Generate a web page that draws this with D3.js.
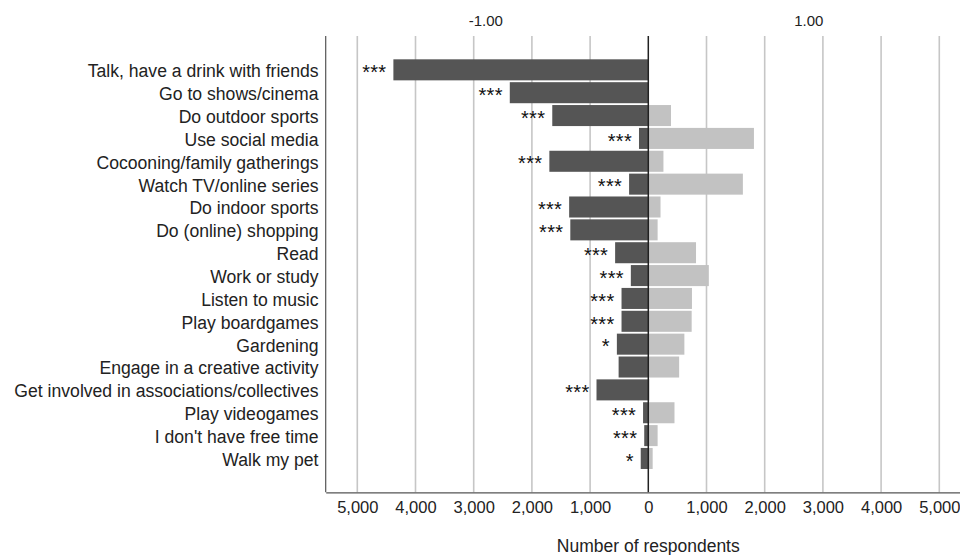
<!DOCTYPE html>
<html>
<head>
<meta charset="utf-8">
<script src="https://cdn.jsdelivr.net/npm/d3@7"></script>
<style>
  html, body { margin: 0; padding: 0; background: #fff; }
  svg { display: block; font-family: "Liberation Sans", Arial, sans-serif; }
</style>
</head>
<body>
<svg id="chart" width="960" height="555"></svg>
<script>
const categories = [
  "Talk, have a drink with friends",
  "Go to shows/cinema",
  "Do outdoor sports",
  "Use social media",
  "Cocooning/family gatherings",
  "Watch TV/online series",
  "Do indoor sports",
  "Do (online) shopping",
  "Read",
  "Work or study",
  "Listen to music",
  "Play boardgames",
  "Gardening",
  "Engage in a creative activity",
  "Get involved in associations/collectives",
  "Play videogames",
  "I don't have free time",
  "Walk my pet"
];
// respondents doing the activity less (dark, drawn left) and more (light, drawn right)
const lessValues = [4380, 2380, 1650, 160, 1700, 330, 1360, 1340, 570, 300, 460, 460, 540, 510, 890, 90, 70, 130];
const moreValues = [0, 0, 390, 1815, 260, 1625, 210, 160, 820, 1040, 750, 745, 620, 530, 20, 450, 160, 75];
const significance = ["***","***","***","***","***","***","***","***","***","***","***","***","*","","***","***","***","*"];
const tickValues = [-5000, -4000, -3000, -2000, -1000, 0, 1000, 2000, 3000, 4000, 5000];
const topLabels = ["-1.00", "1.00"];
const topLabelValues = [-3000, 3000];
const xMax = 5543;

const svg = d3.select("#chart");
const plotLeft = 325.7, plotRight = 970.9, plotTop = 36, plotBottom = 492.3;

const x = d3.scaleLinear().domain([-xMax, xMax]).range([plotLeft, plotRight]);
const y = d3.scaleBand().domain(categories).range([plotTop, plotBottom])
  .paddingInner(0.08).paddingOuter(1.02);

// gridlines
svg.append("g").selectAll("line").data(tickValues.filter(d => d !== 0)).join("line")
  .attr("x1", d => x(d)).attr("x2", d => x(d))
  .attr("y1", plotTop).attr("y2", plotBottom)
  .attr("stroke", "#c6c6c6").attr("stroke-width", 1.6);

// bars
const rows = categories.map((c, i) => ({ c, less: lessValues[i], more: moreValues[i], sig: significance[i] }));
svg.append("g").selectAll("rect").data(rows).join("rect")
  .attr("x", d => x(-d.less)).attr("width", d => x(0) - x(-d.less))
  .attr("y", d => y(d.c)).attr("height", y.bandwidth())
  .attr("fill", "#555555");
svg.append("g").selectAll("rect").data(rows.filter(d => d.more > 0)).join("rect")
  .attr("x", x(0)).attr("width", d => x(d.more) - x(0))
  .attr("y", d => y(d.c)).attr("height", y.bandwidth())
  .attr("fill", "#c2c2c2");

// zero line
svg.append("line")
  .attr("x1", x(0)).attr("x2", x(0)).attr("y1", plotTop).attr("y2", plotBottom)
  .attr("stroke", "#222").attr("stroke-width", 1.5);

// frame (left + bottom)
svg.append("line").attr("x1", plotLeft).attr("x2", plotLeft).attr("y1", plotTop).attr("y2", plotBottom)
  .attr("stroke", "#555").attr("stroke-width", 1.2);

// bottom axis
const axis = d3.axisBottom(x).tickValues(tickValues).tickSize(0).tickPadding(9)
  .tickFormat(d => d3.format(",")(Math.abs(d)));
const gAxis = svg.append("g").attr("transform", `translate(0,${plotBottom})`).call(axis);
gAxis.select(".domain").attr("stroke", "#555").attr("stroke-width", 1.2);
gAxis.selectAll("text").attr("font-size", 16.5).attr("fill", "#222")
  .attr("font-family", "'Liberation Sans', Arial, sans-serif");

// category labels
svg.append("g").selectAll("text").data(categories).join("text")
  .attr("x", 318.5).attr("y", d => y(d) + y.bandwidth() / 2)
  .attr("dy", "0.42em")
  .attr("text-anchor", "end").attr("font-size", 17.6).attr("fill", "#222")
  .text(d => d);

// significance stars
svg.append("g").selectAll("text").data(rows.filter(d => d.sig)).join("text")
  .attr("x", d => x(-d.less) - 7).attr("y", d => y(d.c) + y.bandwidth() / 2)
  .attr("dy", "0.46em")
  .attr("text-anchor", "end").attr("font-size", 20).attr("letter-spacing", 0.3).attr("fill", "#111")
  .text(d => d.sig);

// top labels
svg.append("text").attr("x", x(topLabelValues[0]) - 5).attr("y", 26)
  .attr("text-anchor", "start").attr("font-size", 15).attr("fill", "#222").text(topLabels[0]);
svg.append("text").attr("x", x(topLabelValues[1]) + 0.5).attr("y", 26)
  .attr("text-anchor", "end").attr("font-size", 15).attr("fill", "#222").text(topLabels[1]);

// axis title
svg.append("text").attr("x", x(0)).attr("y", 552)
  .attr("text-anchor", "middle").attr("font-size", 17.5).attr("fill", "#222")
  .text("Number of respondents");
</script>
</body>
</html>
